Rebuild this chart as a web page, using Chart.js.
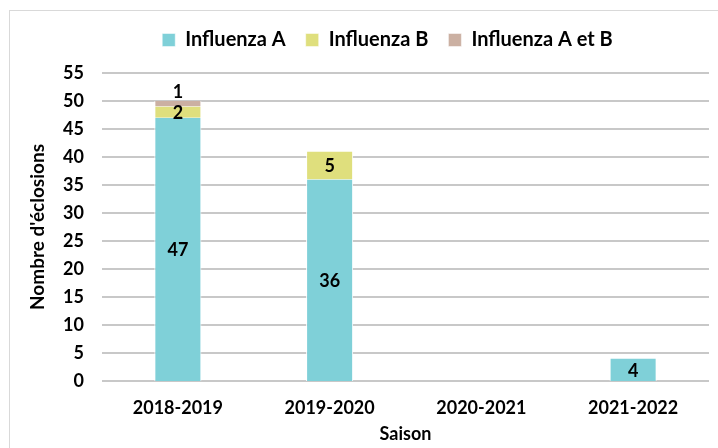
<!DOCTYPE html>
<html><head><meta charset="utf-8">
<script src="https://cdn.jsdelivr.net/npm/chart.js@4/dist/chart.umd.min.js"></script>
<style>html,body{margin:0;padding:0;background:#fff}#wrap{width:718px;height:448px;position:relative}</style>
</head><body><div id="wrap"><canvas id="c" width="718" height="448"></canvas></div>
<script>
const categories = ['2018-2019','2019-2020','2020-2021','2021-2022'];
const influenzaA = [47, 36, 0, 4];
const influenzaB = [2, 5, 0, 0];
const influenzaAB = [1, 0, 0, 0];
const seriesNames = ['Influenza A','Influenza B','Influenza A et B'];
const yTicks = [0,5,10,15,20,25,30,35,40,45,50,55];

const FONT = 'Lato, "Open Sans", sans-serif';

const frame = {
  id:'frame',
  beforeInit(chart){
    const lg = chart.legend;
    if(lg){
      const fit = lg.fit; lg.fit = function(){ fit.call(this); this.height += 13; };
      const d = lg.draw; lg.draw = function(){ const c=this.ctx; c.save(); c.translate(21,0); d.call(this); c.restore(); };
    }
  },
  beforeDraw(chart){
    const ctx = chart.ctx; ctx.save();
    ctx.fillStyle='#fff'; ctx.fillRect(0,0,chart.width,chart.height);
    ctx.strokeStyle='#d9d9d9'; ctx.lineWidth=1;
    ctx.strokeRect(9.5,10.5,chart.width+5,chart.height);
    ctx.restore();
  },
  beforeDatasetsDraw(chart){
    const ctx = chart.ctx, y = chart.scales.y, a = chart.chartArea;
    ctx.save();
    ctx.fillStyle='#c8c8c8';
    for (const v of yTicks) {
      const py = Math.round(y.getPixelForValue(v));
      ctx.fillRect(a.left, py-1, a.right-a.left, 2);
    }
    ctx.restore();
  }
};
const labels = {
  id:'labels',
  afterDatasetsDraw(chart){
    const ctx = chart.ctx; ctx.save();
    ctx.font = 'bold 18px ' + FONT; ctx.fillStyle='#000';
    ctx.textAlign='center'; ctx.textBaseline='middle';
    chart.data.datasets.forEach((ds,di)=>{
      const meta = chart.getDatasetMeta(di);
      meta.data.forEach((bar,i)=>{
        const v = ds.data[i]; if(!v) return;
        if(di===2){ ctx.fillText(String(v), bar.x, bar.y-9); }
        else { ctx.fillText(String(v), bar.x, (bar.y+bar.base)/2+1); }
      });
    });
    ctx.restore();
  }
};

new Chart(document.getElementById('c'),{
  type:'bar',
  data:{labels:categories,datasets:[
    {label:seriesNames[0],data:influenzaA,backgroundColor:'#7fd0d8',borderColor:'#ffffff',borderWidth:{left:1,right:1},barPercentage:0.31,categoryPercentage:1},
    {label:seriesNames[1],data:influenzaB,backgroundColor:'#dfdf7d',borderColor:'#ffffff',borderWidth:{left:1,right:1},barPercentage:0.31,categoryPercentage:1},
    {label:seriesNames[2],data:influenzaAB,backgroundColor:'#cbb0a2',borderColor:'#ffffff',borderWidth:{left:1,right:1},barPercentage:0.31,categoryPercentage:1}
  ]},
  options:{
    responsive:false,animation:false,
    layout:{padding:{left:24,right:9,top:10,bottom:3}},
    plugins:{
      legend:{position:'top',labels:{font:{family:FONT,size:20,weight:'bold'},color:'#000',boxWidth:13,boxHeight:13,padding:20},},
      tooltip:{enabled:false}
    },
    scales:{
      x:{stacked:true,grid:{display:false,drawTicks:false},border:{display:false},
        afterFit(s){ s.height = 64; },
        ticks:{font:{family:FONT,size:18,weight:'bold'},color:'#000',padding:16},
        title:{display:true,text:'Saison',font:{family:FONT,size:18,weight:'bold'},color:'#000',padding:{top:0,bottom:0}}},
      y:{stacked:true,min:yTicks[0],max:yTicks[yTicks.length-1],
        afterFit(s){ s.width = 78; },
        ticks:{stepSize:yTicks[1]-yTicks[0],font:{family:FONT,size:18,weight:'bold'},color:'#000',padding:18},
        grid:{display:false,drawTicks:false},border:{display:false},
        title:{display:true,text:"Nombre d'éclosions",font:{family:FONT,size:19,weight:'bold'},color:'#000',padding:{top:2,bottom:8}}}
    }
  },
  plugins:[frame,labels]
});
</script></body></html>
